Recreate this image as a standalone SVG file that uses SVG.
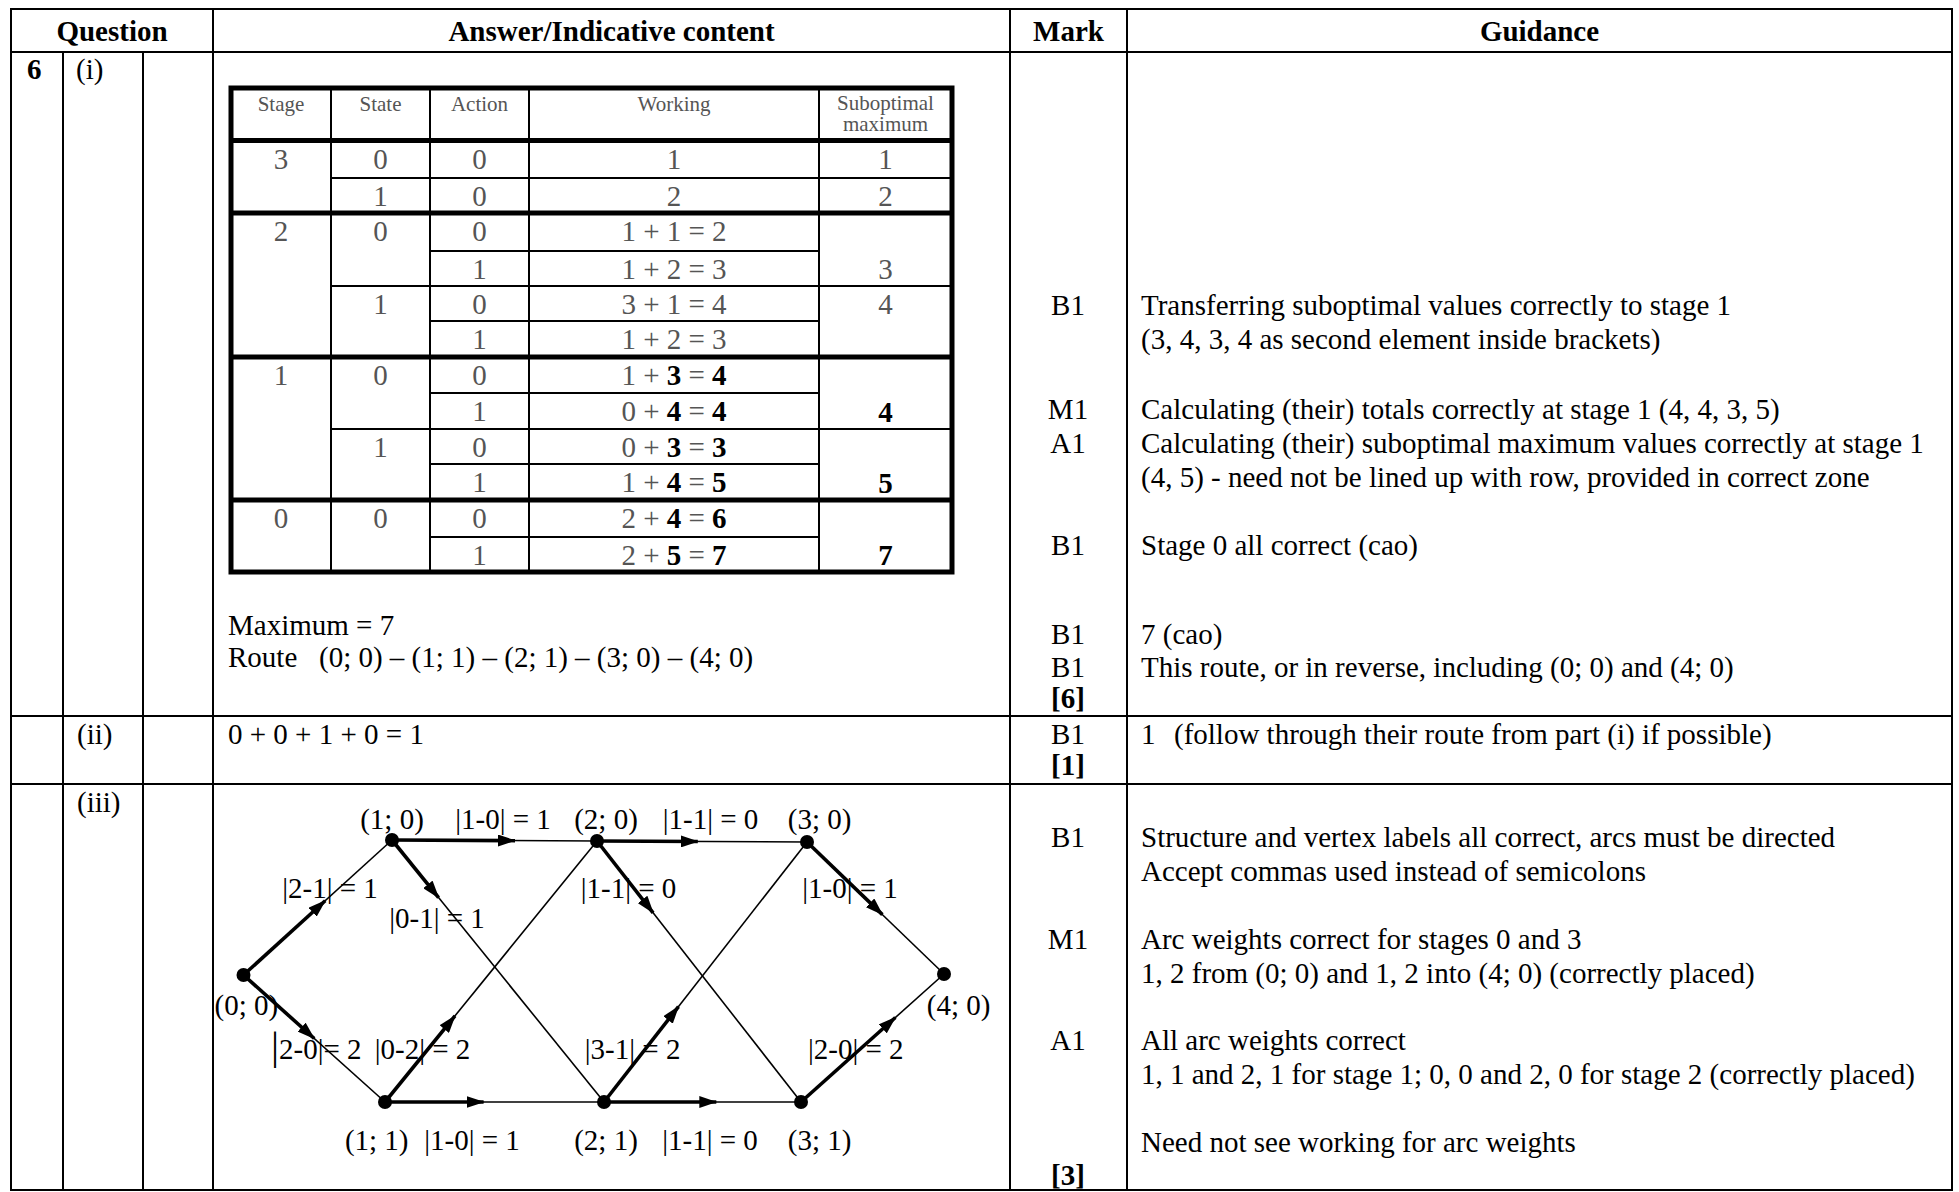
<svg xmlns="http://www.w3.org/2000/svg" width="1959" height="1192" viewBox="0 0 1959 1192">
<style>
text{font-family:"Liberation Serif","Times New Roman",serif;font-size:29px;fill:#000}
.b{font-weight:bold}
.c{text-anchor:middle}
.g{fill:#555}
.gb{fill:#000;font-weight:bold}
.h{font-size:21px;fill:#555}
.tl{stroke:#000;stroke-width:2;fill:none}
.tk{stroke:#000;stroke-width:5;fill:none}
.it{stroke:#000;stroke-width:2;fill:none}
.thin{stroke:#000;stroke-width:1.6;fill:none}
.bold{stroke:#000;stroke-width:3.6;fill:none;marker-end:url(#ah)}
.node{fill:#000}
</style>
<defs>
<marker id="ah" markerUnits="userSpaceOnUse" markerWidth="18" markerHeight="12" refX="17" refY="6" orient="auto">
<path d="M0,0 L18,6 L0,12 z" fill="#000"/>
</marker>
</defs>
<rect width="1959" height="1192" fill="#fff"/>

<g id="main-table">
<rect x="11" y="9" width="1941" height="1181" class="tl"/>
<line x1="11" y1="52" x2="1952" y2="52" class="tl"/>
<line x1="11" y1="716" x2="1952" y2="716" class="tl"/>
<line x1="11" y1="784" x2="1952" y2="784" class="tl"/>
<line x1="63" y1="52" x2="63" y2="1190" class="tl"/>
<line x1="143" y1="52" x2="143" y2="1190" class="tl"/>
<line x1="213" y1="9" x2="213" y2="1190" class="tl"/>
<line x1="1010" y1="9" x2="1010" y2="1190" class="tl"/>
<line x1="1127" y1="9" x2="1127" y2="1190" class="tl"/>
<text x="112" y="41" class="b c">Question</text>
<text x="611.5" y="41" class="b c">Answer/Indicative content</text>
<text x="1068.5" y="41" class="b c">Mark</text>
<text x="1539.5" y="41" class="b c">Guidance</text>
<text x="27" y="79" class="b">6</text>
<text x="76" y="79">(i)</text>
<text x="77" y="744">(ii)</text>
<text x="77" y="812">(iii)</text>
</g>

<g id="dp-table">
<rect x="231" y="88" width="721" height="484" class="tk"/>
<line x1="231" y1="140.5" x2="952" y2="140.5" class="tk"/>
<line x1="231" y1="213" x2="952" y2="213" class="tk"/>
<line x1="231" y1="357" x2="952" y2="357" class="tk"/>
<line x1="231" y1="500" x2="952" y2="500" class="tk"/>
<line x1="331" y1="88" x2="331" y2="572" class="it"/>
<line x1="430" y1="88" x2="430" y2="572" class="it"/>
<line x1="529" y1="88" x2="529" y2="572" class="it"/>
<line x1="819" y1="88" x2="819" y2="572" class="it"/>
<line x1="331" y1="178" x2="952" y2="178" class="it"/>
<line x1="430" y1="251" x2="819" y2="251" class="it"/>
<line x1="331" y1="286" x2="952" y2="286" class="it"/>
<line x1="430" y1="321" x2="819" y2="321" class="it"/>
<line x1="430" y1="393" x2="819" y2="393" class="it"/>
<line x1="331" y1="429" x2="952" y2="429" class="it"/>
<line x1="430" y1="464" x2="819" y2="464" class="it"/>
<line x1="430" y1="537" x2="819" y2="537" class="it"/>
<text x="281" y="111" class="h c">Stage</text>
<text x="380.5" y="111" class="h c">State</text>
<text x="479.5" y="111" class="h c">Action</text>
<text x="674" y="111" class="h c">Working</text>
<text x="885.5" y="110" class="h c">Suboptimal</text>
<text x="885.5" y="131" class="h c">maximum</text>
<g class="cells">
<text x="281" y="169" class="g c">3</text>
<text x="380.5" y="169" class="g c">0</text>
<text x="479.5" y="169" class="g c">0</text>
<text x="674" y="169" class="g c">1</text>
<text x="885.5" y="169" class="g c">1</text>
<text x="380.5" y="206" class="g c">1</text>
<text x="479.5" y="206" class="g c">0</text>
<text x="674" y="206" class="g c">2</text>
<text x="885.5" y="206" class="g c">2</text>
<text x="281" y="241" class="g c">2</text>
<text x="380.5" y="241" class="g c">0</text>
<text x="479.5" y="241" class="g c">0</text>
<text x="674" y="241" class="g c">1 + 1 = 2</text>
<text x="479.5" y="279" class="g c">1</text>
<text x="674" y="279" class="g c">1 + 2 = 3</text>
<text x="885.5" y="279" class="g c">3</text>
<text x="380.5" y="314" class="g c">1</text>
<text x="479.5" y="314" class="g c">0</text>
<text x="674" y="314" class="g c">3 + 1 = 4</text>
<text x="885.5" y="314" class="g c">4</text>
<text x="479.5" y="349" class="g c">1</text>
<text x="674" y="349" class="g c">1 + 2 = 3</text>
<text x="281" y="385" class="g c">1</text>
<text x="380.5" y="385" class="g c">0</text>
<text x="479.5" y="385" class="g c">0</text>
<text x="674" y="385" class="g c">1 + <tspan class="gb">3</tspan> = <tspan class="gb">4</tspan></text>
<text x="479.5" y="421" class="g c">1</text>
<text x="674" y="421" class="g c">0 + <tspan class="gb">4</tspan> = <tspan class="gb">4</tspan></text>
<text x="885.5" y="422" class="b c">4</text>
<text x="380.5" y="457" class="g c">1</text>
<text x="479.5" y="457" class="g c">0</text>
<text x="674" y="457" class="g c">0 + <tspan class="gb">3</tspan> = <tspan class="gb">3</tspan></text>
<text x="479.5" y="492" class="g c">1</text>
<text x="674" y="492" class="g c">1 + <tspan class="gb">4</tspan> = <tspan class="gb">5</tspan></text>
<text x="885.5" y="493" class="b c">5</text>
<text x="281" y="528" class="g c">0</text>
<text x="380.5" y="528" class="g c">0</text>
<text x="479.5" y="528" class="g c">0</text>
<text x="674" y="528" class="g c">2 + <tspan class="gb">4</tspan> = <tspan class="gb">6</tspan></text>
<text x="479.5" y="565" class="g c">1</text>
<text x="674" y="565" class="g c">2 + <tspan class="gb">5</tspan> = <tspan class="gb">7</tspan></text>
<text x="885.5" y="565" class="b c">7</text>
</g>
</g>

<g id="answers">
<text x="228" y="635">Maximum = 7</text>
<text x="228" y="667">Route<tspan x="319">(0; 0) – (1; 1) – (2; 1) – (3; 0) – (4; 0)</tspan></text>
<text x="228" y="744">0 + 0 + 1 + 0 = 1</text>
</g>

<g id="marks">
<text x="1068" y="315" class="c">B1</text>
<text x="1068" y="419" class="c">M1</text>
<text x="1068" y="453" class="c">A1</text>
<text x="1068" y="555" class="c">B1</text>
<text x="1068" y="644" class="c">B1</text>
<text x="1068" y="677" class="c">B1</text>
<text x="1068" y="708" class="b c">[6]</text>
<text x="1068" y="744" class="c">B1</text>
<text x="1068" y="775" class="b c">[1]</text>
<text x="1068" y="847" class="c">B1</text>
<text x="1068" y="949" class="c">M1</text>
<text x="1068" y="1050" class="c">A1</text>
<text x="1068" y="1185" class="b c">[3]</text>
</g>

<g id="guidance">
<text x="1141" y="315">Transferring suboptimal values correctly to stage 1</text>
<text x="1141" y="349">(3, 4, 3, 4 as second element inside brackets)</text>
<text x="1141" y="419">Calculating (their) totals correctly at stage 1 (4, 4, 3, 5)</text>
<text x="1141" y="453">Calculating (their) suboptimal maximum values correctly at stage 1</text>
<text x="1141" y="487">(4, 5) - need not be lined up with row, provided in correct zone</text>
<text x="1141" y="555">Stage 0 all correct (cao)</text>
<text x="1141" y="644">7 (cao)</text>
<text x="1141" y="677">This route, or in reverse, including (0; 0) and (4; 0)</text>
<text x="1141" y="744">1<tspan x="1174">(follow through their route from part (i) if possible)</tspan></text>
<text x="1141" y="847">Structure and vertex labels all correct, arcs must be directed</text>
<text x="1141" y="881">Accept commas used instead of semicolons</text>
<text x="1141" y="949">Arc weights correct for stages 0 and 3</text>
<text x="1141" y="983">1, 2 from (0; 0) and 1, 2 into (4; 0) (correctly placed)</text>
<text x="1141" y="1050">All arc weights correct</text>
<text x="1141" y="1084">1, 1 and 2, 1 for stage 1; 0, 0 and 2, 0 for stage 2 (correctly placed)</text>
<text x="1141" y="1152">Need not see working for arc weights</text>
</g>

<g id="connectors">
<g id="e-00-10"><line x1="243.5" y1="975" x2="392" y2="840" class="thin"/><line x1="243.5" y1="975" x2="325.2" y2="900.75" class="bold"/></g>
<g id="e-00-11"><line x1="243.5" y1="975" x2="385" y2="1102" class="thin"/><line x1="243.5" y1="975" x2="314.25" y2="1038.5" class="bold"/></g>
<g id="e-10-20"><line x1="392" y1="840" x2="597" y2="841" class="thin"/><line x1="392" y1="840" x2="515" y2="840.6" class="bold"/></g>
<g id="e-10-21"><line x1="392" y1="840" x2="604" y2="1102" class="thin"/><line x1="392" y1="840" x2="438.6" y2="897.6" class="bold"/></g>
<g id="e-11-20"><line x1="385" y1="1102" x2="597" y2="841" class="thin"/><line x1="385" y1="1102" x2="455" y2="1015.9" class="bold"/></g>
<g id="e-11-21"><line x1="385" y1="1102" x2="604" y2="1102" class="thin"/><line x1="385" y1="1102" x2="483.6" y2="1102" class="bold"/></g>
<g id="e-20-30"><line x1="597" y1="841" x2="807" y2="842" class="thin"/><line x1="597" y1="841" x2="697.8" y2="841.5" class="bold"/></g>
<g id="e-20-31"><line x1="597" y1="841" x2="801" y2="1102" class="thin"/><line x1="597" y1="841" x2="653.1" y2="912.8" class="bold"/></g>
<g id="e-21-30"><line x1="604" y1="1102" x2="807" y2="842" class="thin"/><line x1="604" y1="1102" x2="678.5" y2="1006.6" class="bold"/></g>
<g id="e-21-31"><line x1="604" y1="1102" x2="801" y2="1102" class="thin"/><line x1="604" y1="1102" x2="716.3" y2="1102" class="bold"/></g>
<g id="e-30-40"><line x1="807" y1="842" x2="944" y2="974" class="thin"/><line x1="807" y1="842" x2="882.4" y2="914.6" class="bold"/></g>
<g id="e-31-40"><line x1="801" y1="1102" x2="944" y2="974" class="thin"/><line x1="801" y1="1102" x2="895.4" y2="1017.5" class="bold"/></g>
</g>

<g id="arc-labels">
<text x="503" y="829" class="c">|1-0| = 1</text>
<text x="710.5" y="829" class="c">|1-1| = 0</text>
<text x="330" y="898" class="c">|2-1| = 1</text>
<text x="437" y="928" class="c">|0-1| = 1</text>
<text x="628.5" y="898" class="c">|1-1| = 0</text>
<text x="850" y="898" class="c">|1-0| = 1</text>
<text x="271" y="1059"><tspan font-size="40">|</tspan>2-0|= 2</text>
<text x="422.5" y="1059" class="c">|0-2| = 2</text>
<text x="632.6" y="1059" class="c">|3-1| = 2</text>
<text x="855.8" y="1059" class="c">|2-0| = 2</text>
<text x="472" y="1150" class="c">|1-0| = 1</text>
<text x="710" y="1150" class="c">|1-1| = 0</text>
</g>

<g id="node-0-0"><circle cx="243.5" cy="975" r="7" class="node"/><text x="246.4" y="1015" class="c">(0; 0)</text></g>
<g id="node-1-0"><circle cx="392" cy="840" r="7" class="node"/><text x="392" y="829" class="c">(1; 0)</text></g>
<g id="node-2-0"><circle cx="597" cy="841" r="7" class="node"/><text x="606" y="829" class="c">(2; 0)</text></g>
<g id="node-3-0"><circle cx="807" cy="842" r="7" class="node"/><text x="819.6" y="829" class="c">(3; 0)</text></g>
<g id="node-4-0"><circle cx="944" cy="974" r="7" class="node"/><text x="958.6" y="1015" class="c">(4; 0)</text></g>
<g id="node-1-1"><circle cx="385" cy="1102" r="7" class="node"/><text x="376.7" y="1150" class="c">(1; 1)</text></g>
<g id="node-2-1"><circle cx="604" cy="1102" r="7" class="node"/><text x="606" y="1150" class="c">(2; 1)</text></g>
<g id="node-3-1"><circle cx="801" cy="1102" r="7" class="node"/><text x="819.6" y="1150" class="c">(3; 1)</text></g>
</svg>
